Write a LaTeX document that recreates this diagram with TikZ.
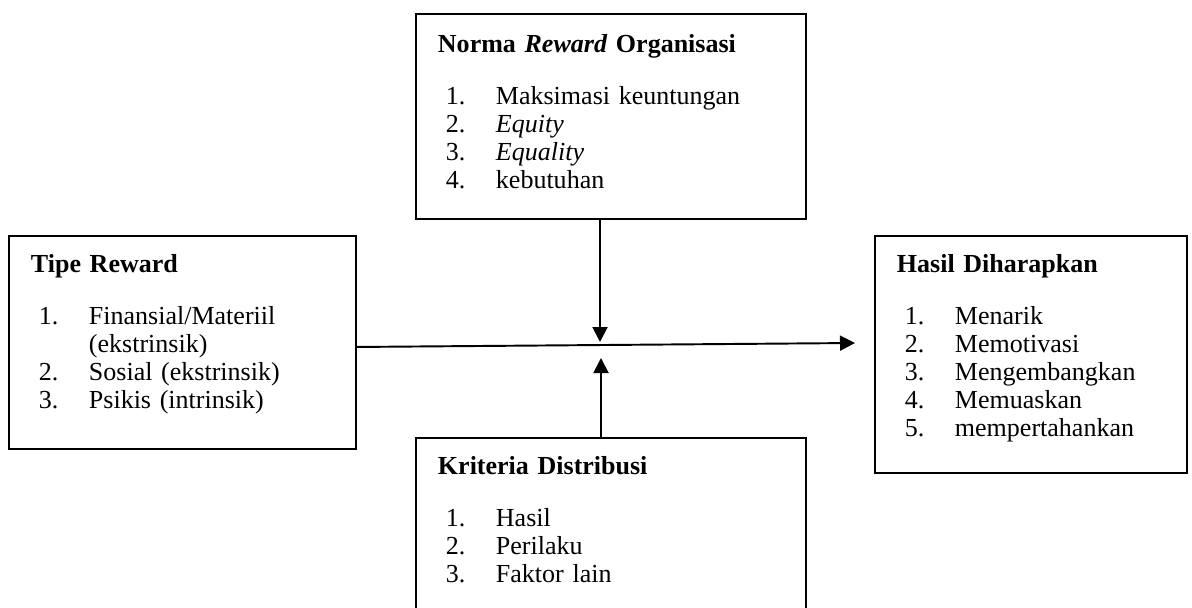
\documentclass[tikz,border=0pt]{standalone}
\usepackage{fontspec}
\setmainfont{Liberation Serif}
\usetikzlibrary{arrows.meta}

\newcommand\butir[2]{\hspace*{0.16cm}\makebox[1.0cm][l]{#1}#2}

\begin{document}
\begin{tikzpicture}[
    kotak/.style={draw,line width=1.1pt,anchor=north west,align=left,
      inner xsep=0.44cm,inner ysep=0pt,text height=0.74cm,
      font=\fontsize{14.8}{15.9}\selectfont},
    panah/.style={line width=1.1pt,-{Triangle[length=0.30cm,width=0.30cm]}}]
    \clip (0,0) rectangle (23.84,12.14);

    \node[kotak,text width=6.92cm,text height=0.78cm,text depth=3.32cm] (norma) at (8.30,11.88)
      {\textbf{Norma \textit{Reward} Organisasi}\\[0.48cm]
       \butir{1.}{Maksimasi keuntungan}\\
       \butir{2.}{\textit{Equity}}\\
       \butir{3.}{\textit{Equality}}\\
       \butir{4.}{kebutuhan}};
    \node[kotak,text width=6.06cm,text depth=3.52cm] (tipe) at (0.16,7.44)
      {\textbf{Tipe Reward}\\[0.48cm]
       \butir{1.}{Finansial/Materiil}\\
       \butir{}{(ekstrinsik)}\\
       \butir{2.}{Sosial (ekstrinsik)}\\
       \butir{3.}{Psikis (intrinsik)}};
    \node[kotak,text width=5.36cm,text depth=4.00cm] (hasil) at (17.48,7.44)
      {\textbf{Hasil Diharapkan}\\[0.48cm]
       \butir{1.}{Menarik}\\
       \butir{2.}{Memotivasi}\\
       \butir{3.}{Mengembangkan}\\
       \butir{4.}{Memuaskan}\\
       \butir{5.}{mempertahankan}};
    \node[kotak,text width=6.92cm,text depth=3.30cm] (kriteria) at (8.30,3.40)
      {\textbf{Kriteria Distribusi}\\[0.48cm]
       \butir{1.}{Hasil}\\
       \butir{2.}{Perilaku}\\
       \butir{3.}{Faktor lain}};
    %
    \coordinate (tA) at (12.00,5.30);
    \coordinate (tB) at (12.02,4.98);
    \coordinate (tC) at (17.10,5.28);
    \draw[panah] (norma.south -| tA) -- (tA);
    \draw[panah] (kriteria.north -| tB) -- (tB);
    \draw[panah] ([yshift=-0.09cm]tipe.east) -- (tC);
\end{tikzpicture}
\end{document}
